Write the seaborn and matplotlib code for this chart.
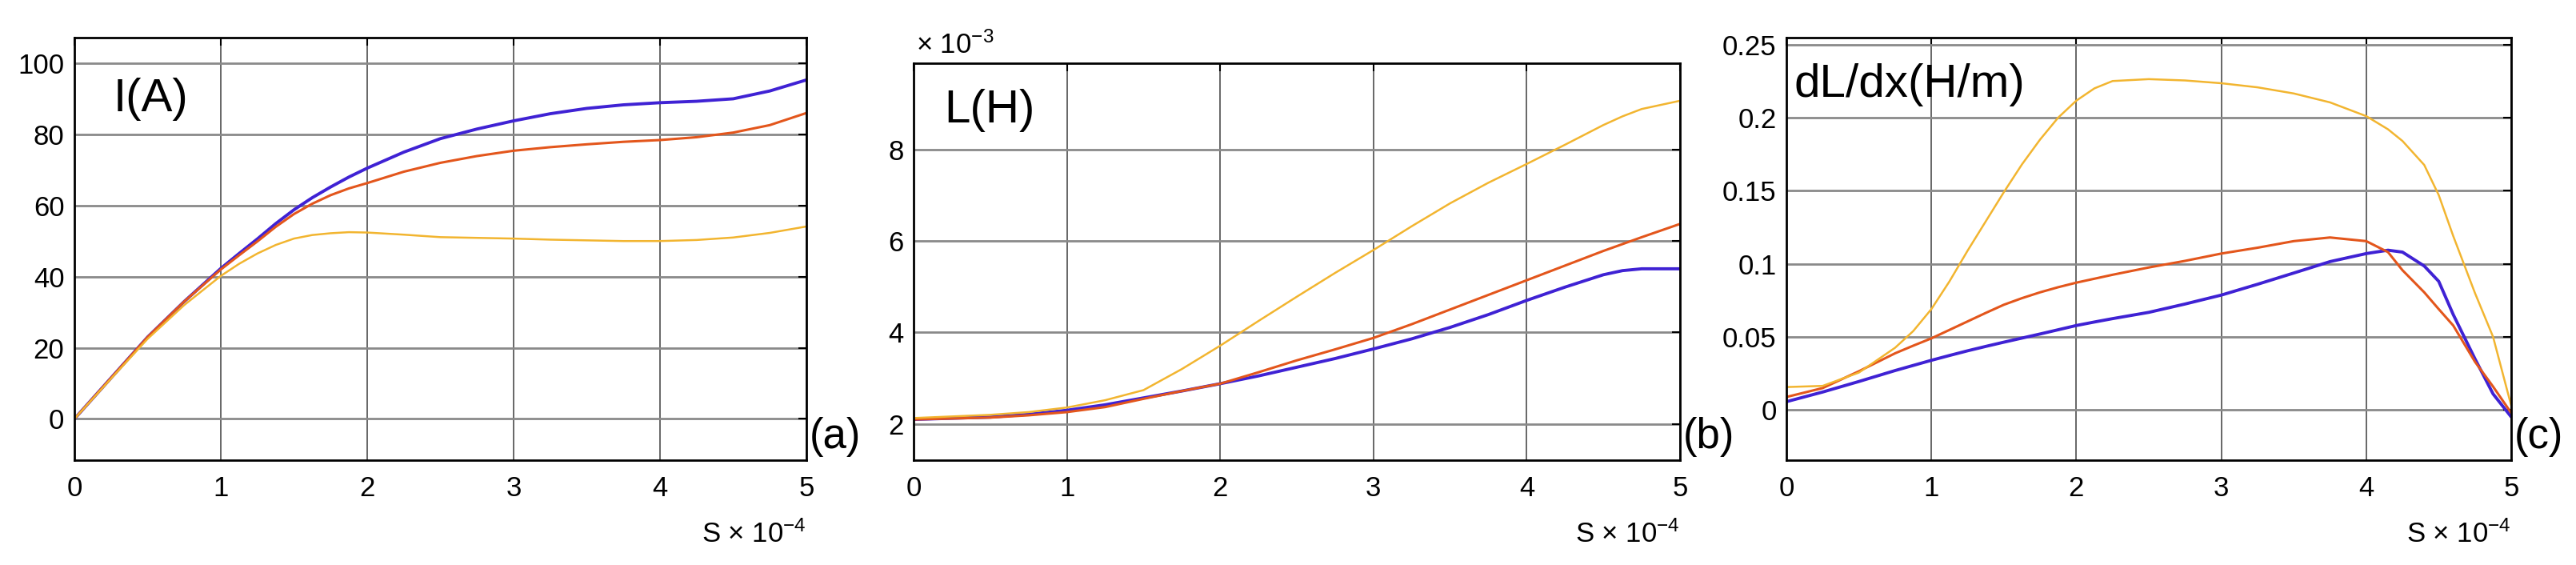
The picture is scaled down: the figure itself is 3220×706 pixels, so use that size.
# ============================================================
# Three panels: I(A), L(H), dL/dx(H/m) against S (x 10^-4)
# ============================================================

import numpy as np
import pandas as pd
import matplotlib
matplotlib.use("Agg")
import matplotlib.pyplot as plt
import seaborn as sns

# ============================================================
# Data
# ============================================================

# panel (a): current, S in units of 1e-4
s_a = [0, 0.25, 0.5, 0.75, 1, 1.125, 1.25, 1.375, 1.5, 1.625, 1.75, 1.875, 2, 2.25,
       2.5, 2.75, 3, 3.25, 3.5, 3.75, 4, 4.25, 4.5, 4.75, 5]
i_blue = [0, 11.5, 23, 33, 42.3, 46.5, 50.6, 54.9, 58.8, 62.2, 65.2, 68.0, 70.5, 75.0,
          78.8, 81.5, 83.8, 85.8, 87.3, 88.3, 88.9, 89.3, 90.0, 92.2, 95.3]
i_orange = [0, 11.5, 23, 33, 42, 46.0, 49.9, 54.0, 57.6, 60.5, 62.9, 64.8, 66.3, 69.5,
            72, 73.9, 75.4, 76.4, 77.2, 77.9, 78.4, 79.2, 80.5, 82.6, 86]
i_yellow = [0, 11.3, 22.5, 32, 40.2, 43.6, 46.5, 48.9, 50.7, 51.7, 52.2, 52.5, 52.4, 51.8,
            51.1, 50.9, 50.7, 50.4, 50.2, 50.0, 50.0, 50.3, 51.0, 52.3, 54.1]

# panel (b): inductance in units of 1e-3 H
s_b = [0, 0.5, 0.75, 1, 1.25, 1.5, 1.75, 2, 2.25, 2.5, 2.75, 3, 3.25, 3.5, 3.75, 4,
       4.25, 4.5, 4.625, 4.75, 5]
l_blue = [2.1, 2.15, 2.21, 2.3, 2.42, 2.57, 2.72, 2.88, 3.05, 3.24, 3.43, 3.64, 3.86,
          4.11, 4.39, 4.7, 4.99, 5.26, 5.35, 5.39, 5.39]
l_orange = [2.1, 2.14, 2.19, 2.26, 2.37, 2.55, 2.72, 2.88, 3.13, 3.39, 3.63, 3.88, 4.18,
            4.5, 4.82, 5.14, 5.46, 5.78, 5.93, 6.08, 6.37]
l_yellow = [2.13, 2.2, 2.26, 2.36, 2.52, 2.74, 3.2, 3.71, 4.25, 4.78, 5.3, 5.8, 6.32,
            6.82, 7.27, 7.68, 8.1, 8.53, 8.72, 8.88, 9.06]

# panel (c): dL/dx
s_c = [0, 0.25, 0.5, 0.75, 0.875, 1, 1.125, 1.25, 1.375, 1.5, 1.625, 1.75, 1.875, 2,
       2.125, 2.25, 2.5, 2.75, 3, 3.25, 3.5, 3.75, 4, 4.15, 4.25, 4.4, 4.5, 4.6, 4.75,
       4.875, 5]
d_blue = [0.0057, 0.0123, 0.0195, 0.027, 0.0305, 0.034, 0.0373, 0.0405, 0.0435, 0.0464,
          0.0492, 0.052, 0.0549, 0.0578, 0.0602, 0.0625, 0.0668, 0.0725, 0.0786, 0.086,
          0.0937, 0.1015, 0.107, 0.1093, 0.108, 0.0985, 0.088, 0.0653, 0.035, 0.011,
          -0.0047]
d_orange = [0.0089, 0.015, 0.0265, 0.0388, 0.044, 0.049, 0.0548, 0.0606, 0.0664, 0.072,
            0.0765, 0.0805, 0.084, 0.0871, 0.0898, 0.0925, 0.0975, 0.102, 0.107, 0.111,
            0.1155, 0.118, 0.1155, 0.108, 0.0956, 0.0805, 0.069, 0.0578, 0.033, 0.016,
            -0.002]
d_yellow = [0.0157, 0.0165, 0.0256, 0.0426, 0.054, 0.069, 0.088, 0.109, 0.129, 0.149,
            0.168, 0.185, 0.2, 0.2116, 0.22, 0.225, 0.2263, 0.2254, 0.2235, 0.2207,
            0.2165, 0.2104, 0.201, 0.192, 0.184, 0.1676, 0.147, 0.119, 0.08, 0.05,
            0.003]

x_ticks = [0, 1, 2, 3, 4, 5]
a_ticks = [0, 20, 40, 60, 80, 100]
b_ticks = [2, 4, 6, 8]
c_ticks = [0, 0.05, 0.1, 0.15, 0.2, 0.25]
c_tick_labels = ["0", "0.05", "0.1", "0.15", "0.2", "0.25"]

colors = {"blue": "#3f22d4", "orange": "#e3561c", "yellow": "#f2b530"}
widths = {"blue": 2.8, "orange": 2.2, "yellow": 1.8}

# ============================================================
# Style
# ============================================================

sns.set_theme(style="white")
plt.rcParams["font.family"] = ["Liberation Sans", "DejaVu Sans"]
plt.rcParams["mathtext.fontset"] = "custom"
plt.rcParams["mathtext.rm"] = "Liberation Sans"
plt.rcParams["mathtext.it"] = "Liberation Sans:italic"

fig = plt.figure(figsize=(32.2, 7.06), dpi=100)
fig.patch.set_facecolor("white")

ax_a = fig.add_axes([0.02888, 0.18555, 0.28416, 0.74788])
ax_b = fig.add_axes([0.35466, 0.18555, 0.29752, 0.70255])
ax_c = fig.add_axes([0.69348, 0.18555, 0.28137, 0.74788])


def draw(ax, x, series, ylim, yticks, name, tag, ylabels=None):
    for key, vals in series:
        df = pd.DataFrame({"s": x, "v": vals})
        sns.lineplot(data=df, x="s", y="v", ax=ax, color=colors[key],
                     linewidth=widths[key], sort=False,
                     solid_joinstyle="round", solid_capstyle="round")
    ax.set_xlim(0, 5)
    ax.set_ylim(*ylim)
    ax.set_xticks(x_ticks)
    ax.set_xticklabels([str(t) for t in x_ticks])
    ax.set_yticks(yticks)
    if ylabels is not None:
        ax.set_yticklabels(ylabels)
    ax.set_xlabel("")
    ax.set_ylabel("")
    ax.xaxis.grid(True, color="#5a5a5a", linewidth=1.3)
    ax.yaxis.grid(True, color="#8a8a8a", linewidth=2.0)
    ax.set_axisbelow(True)
    for sp in ax.spines.values():
        sp.set_color("black")
        sp.set_linewidth(2.0)
    ax.tick_params(axis="both", direction="in", length=7, width=1.5,
                   labelsize=25, colors="black", top=True, right=True)
    ax.tick_params(axis="x", pad=14)
    ax.tick_params(axis="y", pad=9)
    ax.text(name[1], name[2], name[0], transform=ax.transAxes, fontsize=42,
            ha="left", va="baseline", color="black")
    ax.text(1.004, tag[1], tag[0], transform=ax.transAxes, fontsize=38,
            ha="left", va="baseline", color="black")
    ax.text(1.0, tag[2], "S \u00d7 10$^{-4}$", transform=ax.transAxes, fontsize=25,
            ha="right", va="baseline", color="black")


draw(ax_a, s_a,
     [("blue", i_blue), ("orange", i_orange), ("yellow", i_yellow)],
     (-11.6, 107.2), a_ticks, ("I(A)", 0.0536, 0.826), ("(a)", 0.028, -0.195))

draw(ax_b, s_b,
     [("blue", l_blue), ("orange", l_orange), ("yellow", l_yellow)],
     (1.21, 9.88), b_ticks, ("L(H)", 0.0397, 0.851), ("(b)", 0.030, -0.2077))
ax_b.text(0.003, 1.024, "\u00d7 10$^{-3}$", transform=ax_b.transAxes, fontsize=25,
          ha="left", va="baseline", color="black")

draw(ax_c, s_c,
     [("blue", d_blue), ("orange", d_orange), ("yellow", d_yellow)],
     (-0.0343, 0.2547), c_ticks, ("dL/dx(H/m)", 0.011, 0.860), ("(c)", 0.028, -0.195),
     ylabels=c_tick_labels)

fig.savefig("out.png", dpi=100, facecolor="white")
